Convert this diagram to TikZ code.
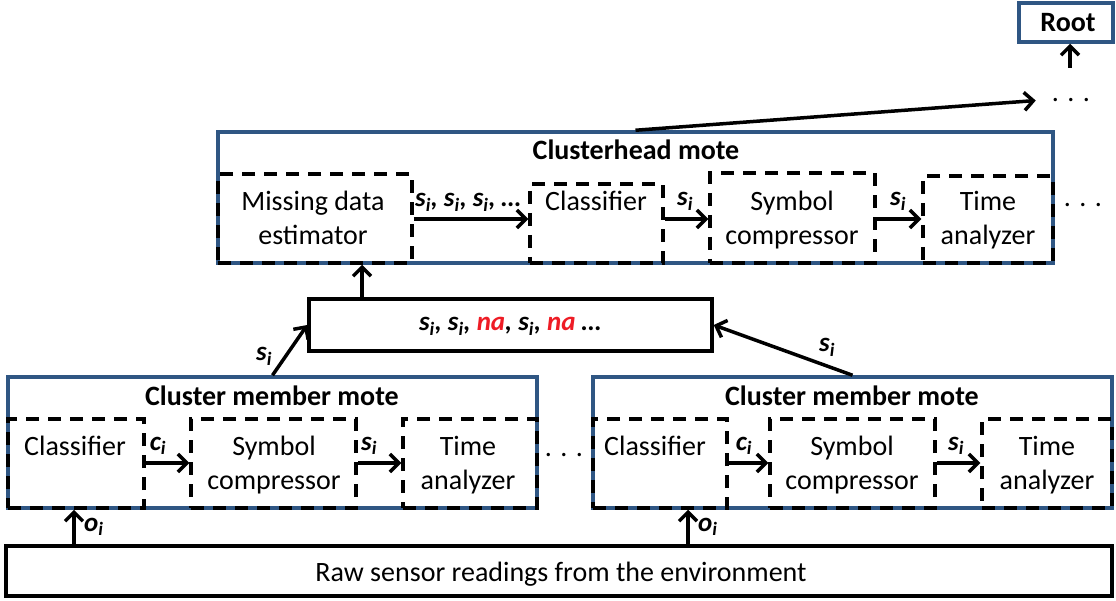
\documentclass[tikz,border=0pt]{standalone}
\usepackage{fontspec}
\setmainfont{Carlito}
\usetikzlibrary{arrows.meta,fit}
\definecolor{moteblue}{HTML}{2F5683}
\definecolor{nared}{HTML}{EE1C25}
\newcommand\ssub[2]{#1\textsubscript{#2}}
\begin{document}
\begin{tikzpicture}[x=1pt,y=-1pt,
  bluebox/.style={draw=moteblue,line width=3.5pt,inner sep=0pt},
  dbox/.style={draw=black,line width=3.5pt,dash pattern=on 13pt off 9pt,inner sep=0pt},
  blackbox/.style={draw=black,line width=3.5pt,inner sep=0pt},
  conn/.style={line width=3.5pt,-{Straight Barb[length=9pt,width=18pt]}},
  txt/.style={font=\fontsize{28}{34}\selectfont,align=center,inner sep=0pt,anchor=base},
  ttl/.style={font=\fontsize{28}{34}\selectfont\bfseries,inner sep=0pt,anchor=base},
  lbl/.style={font=\fontsize{27}{32}\selectfont\bfseries\itshape,inner sep=0pt,anchor=base},
  dots/.style={font=\fontsize{28}{34}\selectfont,inner sep=0pt,anchor=base}
]
\useasboundingbox (0,0) rectangle (1116,601);

% Root and upper dots
\node[bluebox,fit={(1019,3)(1113,42)}] (root) {};
\node[ttl] (roottxt) at (1068,32) {Root};
\node[dots,inner xsep=16pt] (topdots) at (1071,102) {. . .};
\coordinate (rootarr) at (1070,68);
\draw[conn] (rootarr) -- (root.south -| rootarr);

% Clusterhead mote
\node[bluebox,fit={(218,132)(1053,263)}] (ch) {};
\node[ttl] (chttl) at (636,160) {Clusterhead mote};
\node[dbox,fit={(218,174)(412,263)}] (miss) {};
\node[dbox,fit={(530,184)(663,263)}] (cls) {};
\node[dbox,fit={(710,173)(875,263)}] (sym) {};
\node[dbox,fit={(923,176)(1053,263)}] (time) {};
\node[txt] (misstxt) at (313,245) {Missing data\\estimator};
\node[txt] (clstxt) at (596,211) {Classifier};
\node[txt] (symtxt) at (792,245) {Symbol\\compressor};
\node[txt] (timetxt) at (988,245) {Time\\analyzer};
\coordinate (chrow) at (0,219);
\draw[conn] (miss.east |- chrow) -- (cls.west |- chrow);
\draw[conn] (cls.east |- chrow) -- (sym.west |- chrow);
\draw[conn] (sym.east |- chrow) -- (time.west |- chrow);
\node[lbl] (l1) at (468,207) {\ssub{s}{i}, \ssub{s}{i}, \ssub{s}{i}, …};
\node[lbl] (l2) at (685,206) {\ssub{s}{i}};
\node[lbl] (l3) at (898,206) {\ssub{s}{i}};
\node[dots] (chdots) at (1083,207) {. . .};
\draw[conn] (ch.north) -- (topdots.west);

% Middle buffer
\node[blackbox,fit={(309,299)(712,351)}] (mid) {};
\node[lbl] (midtxt) at (510,331) {\ssub{s}{i}, \ssub{s}{i}, \textcolor{nared}{na}, \ssub{s}{i}, \textcolor{nared}{na} …};
\coordinate (upx) at (362,0);
\draw[conn] (mid.north -| upx) -- (ch.south -| upx);

% Left cluster member mote
\node[bluebox,fit={(8,377)(537,508)}] (cmL) {};
\node[ttl] (cmLttl) at (272,405) {Cluster member mote};
\node[dbox,fit={(8,419)(144,508)}] (clsL) {};
\node[dbox,fit={(191,419)(356,508)}] (symL) {};
\node[dbox,fit={(403,419)(537,508)}] (timeL) {};
\node[txt] (clsLtxt) at (75,455) {Classifier};
\node[txt] (symLtxt) at (274,489) {Symbol\\compressor};
\node[txt] (timeLtxt) at (468,489) {Time\\analyzer};
\coordinate (cmrow) at (0,463);
\draw[conn] (clsL.east |- cmrow) -- (symL.west |- cmrow);
\draw[conn] (symL.east |- cmrow) -- (timeL.west |- cmrow);
\node[lbl] (lL1) at (158,450) {\ssub{c}{i}};
\node[lbl] (lL2) at (369,450) {\ssub{s}{i}};

% Right cluster member mote
\node[bluebox,fit={(593,377)(1112,508)}] (cmR) {};
\node[ttl] (cmRttl) at (852,405) {Cluster member mote};
\node[dbox,fit={(593,419)(727,508)}] (clsR) {};
\node[dbox,fit={(770,419)(935,508)}] (symR) {};
\node[dbox,fit={(982,419)(1112,508)}] (timeR) {};
\node[txt] (clsRtxt) at (655,455) {Classifier};
\node[txt] (symRtxt) at (852,489) {Symbol\\compressor};
\node[txt] (timeRtxt) at (1047,489) {Time\\analyzer};
\draw[conn] (clsR.east |- cmrow) -- (symR.west |- cmrow);
\draw[conn] (symR.east |- cmrow) -- (timeR.west |- cmrow);
\node[lbl] (lR1) at (744,450) {\ssub{c}{i}};
\node[lbl] (lR2) at (956,450) {\ssub{s}{i}};

\node[dots] (middots) at (564,456) {. . .};

% links to middle buffer
\draw[conn] (cmL.north) -- (mid.west);
\draw[conn] (cmR.north) -- (mid.east);
\node[lbl] (sL) at (264,361) {\ssub{s}{i}};
\node[lbl] (sR) at (827,352) {\ssub{s}{i}};

% Raw sensor readings
\node[blackbox,fit={(6,546)(1112,596)}] (raw) {};
\node[txt] (rawtxt) at (561,581) {Raw sensor readings from the environment};
\coordinate (oL) at (74,0);
\coordinate (oR) at (688,0);
\draw[conn] (raw.north -| oL) -- (cmL.south -| oL);
\draw[conn] (raw.north -| oR) -- (cmR.south -| oR);
\node[lbl,anchor=base west] (oLl) at (84,531) {\ssub{o}{i}};
\node[lbl,anchor=base west] (oRl) at (698,531) {\ssub{o}{i}};
\end{tikzpicture}
\end{document}
